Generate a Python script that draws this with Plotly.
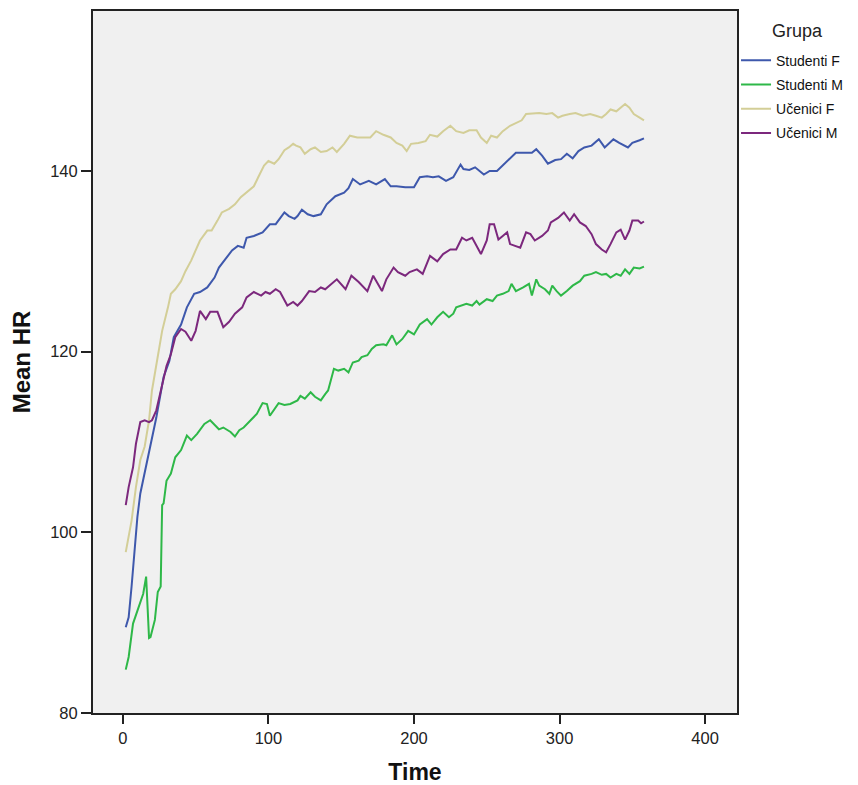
import plotly.graph_objects as go

# ---- data ----
series_names = ["Studenti F", "Studenti M", "Učenici F", "Učenici M"]
series_colors = ["#3E58AC", "#2EB848", "#D3CE97", "#7C287D"]

studenti_f_time = [2, 4, 6, 8, 10, 12, 15, 17, 20, 23, 25, 28, 32, 35, 40, 44, 49, 53, 58, 63, 66, 71, 75, 79,
                   83, 85, 90, 96, 101, 105, 111, 114, 118, 120, 123, 127, 131, 136, 140, 146, 152, 155, 158,
                   163, 169, 174, 180, 184, 188, 194, 200, 204, 209, 213, 217, 222, 227, 232, 234, 238, 242,
                   248, 252, 257, 261, 266, 270, 276, 281, 284, 288, 292, 297, 301, 305, 309, 313, 317, 322,
                   327, 331, 337, 341, 347, 350, 355, 358]
studenti_f_vals = [89.5, 90.6, 94.0, 98.0, 101.7, 104.3, 106.5, 108.3, 110.5, 112.7, 114.5, 117.2, 119.0,
                   121.6, 123.0, 124.9, 126.4, 126.6, 127.1, 128.2, 129.3, 130.4, 131.2, 131.7, 131.5, 132.6,
                   132.8, 133.2, 134.1, 134.1, 135.4, 135.0, 134.7, 135.0, 135.7, 135.2, 135.0, 135.2, 136.3,
                   137.2, 137.6, 138.1, 139.1, 138.5, 138.9, 138.5, 139.1, 138.3, 138.3, 138.2, 138.2, 139.3,
                   139.4, 139.3, 139.4, 138.9, 139.3, 140.7, 140.2, 140.1, 140.4, 139.6, 140.0, 140.0, 140.6,
                   141.3, 142.0, 142.0, 142.0, 142.4, 141.7, 140.8, 141.2, 141.3, 141.9, 141.4, 142.2, 142.6,
                   142.8, 143.5, 142.6, 143.5, 143.1, 142.6, 143.1, 143.4, 143.6]

studenti_m_time = [2, 4, 7, 10, 14, 16, 18, 19, 22, 24, 26, 27, 28, 30, 33, 36, 40, 44, 47, 51, 56, 60, 66,
                   69, 74, 77, 80, 83, 88, 92, 96, 99, 101, 104, 107, 111, 115, 120, 122, 125, 129, 132, 136,
                   139, 141, 145, 148, 152, 155, 158, 162, 164, 168, 171, 174, 179, 181, 185, 188, 192, 196,
                   200, 204, 209, 212, 216, 220, 224, 227, 229, 233, 236, 240, 243, 245, 250, 254, 257, 261,
                   265, 267, 270, 275, 279, 281, 284, 286, 290, 293, 295, 298, 301, 305, 309, 314, 317, 322,
                   325, 329, 332, 335, 339, 342, 345, 348, 351, 355, 358]
studenti_m_vals = [84.8, 86.2, 89.9, 91.4, 93.2, 95.1, 88.3, 88.4, 90.3, 93.4, 94.0, 103.0, 103.2, 105.7,
                   106.5, 108.3, 109.1, 110.7, 110.2, 110.9, 112.0, 112.4, 111.4, 111.6, 111.1, 110.6, 111.3,
                   111.6, 112.4, 113.1, 114.3, 114.2, 112.9, 113.6, 114.3, 114.1, 114.2, 114.6, 115.1, 114.8,
                   115.5, 115.0, 114.6, 115.3, 115.7, 118.1, 117.9, 118.1, 117.7, 118.8, 119.0, 119.4, 119.6,
                   120.3, 120.7, 120.8, 120.7, 121.8, 120.8, 121.4, 122.3, 121.9, 123.0, 123.6, 123.0, 123.8,
                   124.4, 123.8, 124.2, 124.9, 125.1, 125.3, 125.1, 125.6, 125.2, 125.8, 125.6, 126.2, 126.4,
                   126.7, 127.5, 126.7, 127.1, 127.5, 126.2, 128.0, 127.3, 126.9, 126.4, 127.3, 126.7, 126.2,
                   126.7, 127.3, 127.8, 128.4, 128.6, 128.8, 128.5, 128.6, 128.2, 128.6, 128.4, 129.1, 128.6,
                   129.3, 129.2, 129.4]

ucenici_f_time = [2, 6, 9, 12, 15, 18, 20, 24, 27, 31, 33, 36, 40, 43, 47, 50, 53, 58, 61, 65, 68, 73, 77,
                  81, 85, 90, 93, 97, 100, 104, 107, 111, 114, 117, 119, 122, 125, 129, 132, 136, 140, 144,
                  147, 152, 156, 161, 165, 170, 174, 179, 184, 188, 192, 195, 198, 203, 208, 211, 216, 220,
                  225, 229, 234, 238, 243, 246, 250, 253, 257, 261, 266, 270, 274, 277, 282, 286, 291, 295,
                  299, 302, 307, 311, 316, 321, 325, 329, 332, 335, 339, 342, 345, 348, 351, 355, 358]
ucenici_f_vals = [97.8, 101.3, 105.0, 108.0, 109.5, 112.4, 115.7, 119.4, 122.3, 124.9, 126.4, 126.9,
                  127.8, 128.9, 130.1, 131.2, 132.3, 133.4, 133.4, 134.5, 135.4, 135.8, 136.3, 137.1, 137.6,
                  138.3, 139.3, 140.6, 141.1, 140.8, 141.3, 142.3, 142.6, 143.0, 142.8, 142.6, 141.9, 142.4,
                  142.6, 142.1, 142.2, 142.6, 142.1, 143.0, 143.9, 143.7, 143.7, 143.7, 144.4, 144.0, 143.7,
                  143.1, 142.8, 142.2, 143.0, 143.1, 143.3, 144.0, 143.8, 144.4, 145.0, 144.4, 144.2, 144.5,
                  144.5, 143.7, 143.1, 143.9, 143.7, 144.4, 145.0, 145.3, 145.6, 146.3, 146.4, 146.4, 146.3,
                  146.4, 145.9, 146.1, 146.3, 146.4, 146.1, 146.3, 146.1, 145.9, 146.3, 146.8, 146.6, 147.0,
                  147.4, 147.0, 146.3, 145.9, 145.6]

ucenici_m_time = [2, 4, 7, 9, 12, 15, 18, 20, 23, 26, 30, 33, 36, 40, 43, 47, 50, 53, 57, 60, 65, 69, 73,
                  77, 82, 85, 90, 95, 98, 101, 105, 108, 113, 117, 120, 123, 128, 132, 136, 139, 143, 147,
                  153, 157, 162, 168, 172, 178, 181, 186, 189, 194, 197, 202, 206, 211, 216, 220, 225, 229,
                  233, 236, 240, 243, 246, 250, 252, 255, 258, 261, 264, 266, 269, 273, 277, 280, 283, 288,
                  292, 294, 299, 303, 307, 310, 314, 318, 322, 325, 329, 332, 335, 339, 342, 345, 348, 350,
                  354, 356, 358]
ucenici_m_vals = [103.0, 105.0, 107.2, 109.8, 112.2, 112.4, 112.2, 112.4, 113.5, 115.7, 118.4, 119.7,
                  121.6, 122.5, 122.2, 121.2, 122.3, 124.5, 123.6, 124.4, 124.4, 122.7, 123.3, 124.2, 124.9,
                  126.0, 126.6, 126.2, 126.6, 126.4, 126.9, 126.6, 125.1, 125.5, 125.1, 125.6, 126.7, 126.6,
                  127.1, 126.9, 127.5, 128.0, 126.9, 128.4, 127.7, 126.7, 128.4, 126.7, 128.0, 129.3, 128.8,
                  128.4, 128.8, 129.1, 128.6, 130.6, 130.0, 130.8, 131.3, 131.3, 132.6, 132.3, 132.6, 131.7,
                  130.8, 132.3, 134.1, 134.1, 132.4, 132.8, 133.2, 131.9, 131.7, 131.5, 133.2, 133.0, 132.3,
                  132.8, 133.4, 134.3, 134.8, 135.4, 134.5, 135.2, 134.3, 133.9, 133.0, 131.9, 131.3, 131.0,
                  131.9, 133.2, 133.5, 132.4, 133.4, 134.5, 134.5, 134.2, 134.4]

x_tick_vals = [0, 100, 200, 300, 400]
y_tick_vals = [80, 100, 120, 140]

series_time = [studenti_f_time, studenti_m_time, ucenici_f_time, ucenici_m_time]
series_vals = [studenti_f_vals, studenti_m_vals, ucenici_f_vals, ucenici_m_vals]

fig = go.Figure()
for i, (name, color) in enumerate(zip(series_names, series_colors)):
    fig.add_trace(go.Scatter(
        x=series_time[i], y=series_vals[i], mode="lines", name=name,
        legendgroup=name,
        line=dict(color=color, width=2),
    ))

font_family = "Liberation Sans, Arial, sans-serif"

fig.update_layout(
    width=850, height=777,
    margin=dict(l=85, r=121, t=1, b=72),
    paper_bgcolor="white",
    plot_bgcolor="#F0F0F0",
    font=dict(family=font_family, color="#222222", size=14),
    showlegend=True,
    legend=dict(
        x=0.9985, xanchor="left", y=0.952, yanchor="top",
        bgcolor="rgba(0,0,0,0)", font=dict(size=14, color="#111111"),
        tracegroupgap=3, traceorder="grouped",
    ),
    annotations=[dict(
        text="Grupa", xref="paper", yref="paper", x=1.052, y=0.971,
        xanchor="left", yanchor="middle", showarrow=False,
        font=dict(size=18, color="#222222", family=font_family),
    )],
    xaxis=dict(
        range=[-20.5, 421.9], tickvals=x_tick_vals, ticks="outside", ticklen=9,
        tickwidth=1.5, tickcolor="#222", showgrid=False, zeroline=False,
        showline=True, linecolor="#222", linewidth=2, mirror=True,
        title=dict(text="<b>Time</b>", font=dict(size=23, color="#111"), standoff=19),
        tickfont=dict(size=16.5),
    ),
    yaxis=dict(
        range=[80, 157.7], tickvals=y_tick_vals, ticks="outside", ticklen=10,
        tickwidth=1.5, tickcolor="#222", showgrid=False, zeroline=False,
        showline=True, linecolor="#222", linewidth=2, mirror=True,
        title=dict(text="<b>Mean HR</b>", font=dict(size=24, color="#111"), standoff=15),
        tickfont=dict(size=16.5),
    ),
)

fig.write_html("out.html")
